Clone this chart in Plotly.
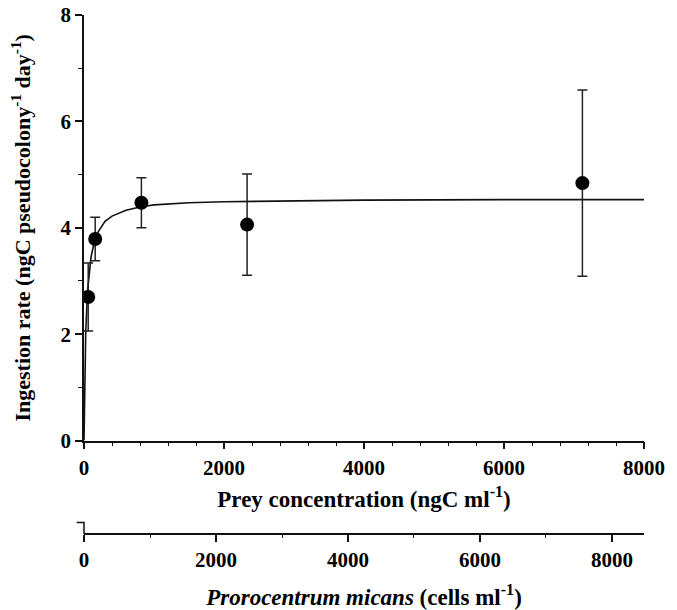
import plotly.graph_objects as go

# Data
prey_ngC = [60, 160, 820, 2330, 7120]
ingestion = [2.70, 3.79, 4.47, 4.06, 4.84]
err = [0.64, 0.41, 0.47, 0.95, 1.75]

fit_x = [0, 10, 25, 50, 75, 100, 150, 200, 300, 400, 600, 800, 1000, 1500, 2000, 3000, 4000, 6000, 8000]
fit_y = [0, 1.15, 2.05, 2.8, 3.2, 3.45, 3.75, 3.92, 4.12, 4.22, 4.33, 4.39, 4.43, 4.47, 4.49, 4.51, 4.52, 4.53, 4.53]

x_ticks = [0, 2000, 4000, 6000, 8000]
y_ticks = [0, 2, 4, 6, 8]

FONT = "Liberation Serif, Times New Roman, serif"
INK = "#111111"

fig = go.Figure()

fig.add_trace(go.Scatter(x=fit_x, y=fit_y, mode="lines",
                         line=dict(color=INK, width=1.6), showlegend=False,
                         hoverinfo="skip"))
fig.add_trace(go.Scatter(x=prey_ngC, y=ingestion, mode="markers",
                         marker=dict(color="black", size=14),
                         error_y=dict(type="data", array=err, visible=True,
                                      color="#222222", thickness=1.5, width=5),
                         showlegend=False))
# empty trace on the secondary x axis so it is drawn
fig.add_trace(go.Scatter(x=[None], y=[None], xaxis="x2", yaxis="y",
                         mode="markers", showlegend=False, hoverinfo="skip"))

tickfont = dict(family=FONT, size=21, color="black", weight="bold")
titlefont = dict(family=FONT, size=23, color="black")

fig.update_layout(
    width=677, height=610,
    margin=dict(l=84, r=33, t=15, b=76),
    paper_bgcolor="white", plot_bgcolor="white",
    font=dict(family=FONT, color="black"),
    xaxis=dict(
        domain=[0, 1], anchor="y", range=[0, 8000], automargin=False,
        tickvals=x_ticks, ticktext=[str(v) for v in x_ticks],
        showline=True, linecolor=INK, linewidth=1.6,
        ticks="outside", ticklen=7, tickwidth=1.5, tickcolor=INK,
        minor=dict(dtick=400, ticks="outside", ticklen=4, tickwidth=1.2, tickcolor=INK),
        showgrid=False, zeroline=False, tickfont=tickfont,
        title=dict(text="<b>Prey concentration (ngC ml<sup>-1</sup>)</b>",
                   font=titlefont, standoff=12),
    ),
    xaxis2=dict(
        overlaying="x", anchor="free", position=0, side="bottom",
        range=[0, 8485], automargin=False,
        tickvals=x_ticks, ticktext=[str(v) for v in x_ticks],
        showline=True, linecolor=INK, linewidth=1.6,
        ticks="outside", ticklen=7, tickwidth=1.5, tickcolor=INK,
        minor=dict(dtick=1000, ticks="outside", ticklen=3, tickwidth=1.2, tickcolor=INK),
        showgrid=False, zeroline=False, tickfont=tickfont,
        title=dict(text="<b><i>Prorocentrum micans</i> (cells ml<sup>-1</sup>)</b>",
                   font=titlefont, standoff=17),
    ),
    yaxis=dict(
        domain=[0.18, 1], range=[0, 8], automargin=False,
        tickvals=y_ticks, ticktext=[str(v) for v in y_ticks],
        showline=True, linecolor=INK, linewidth=1.6,
        ticks="outside", ticklen=7, tickwidth=1.5, tickcolor=INK,
        minor=dict(dtick=1, ticks="outside", ticklen=4, tickwidth=1.2, tickcolor=INK),
        showgrid=False, zeroline=False, tickfont=tickfont,
        title=dict(text="<b>Ingestion rate (ngC pseudocolony<sup>-1</sup> day<sup>-1</sup>)</b>",
                   font=dict(family=FONT, size=22, color="black"), standoff=24),
    ),
)

# small break mark at left end of the lower axis
fig.add_shape(type="path", xref="paper", yref="paper",
              path="M -0.013 0.022 L 0 0.022 L 0 0",
              line=dict(color=INK, width=1.5))

fig.write_html("out.html")
